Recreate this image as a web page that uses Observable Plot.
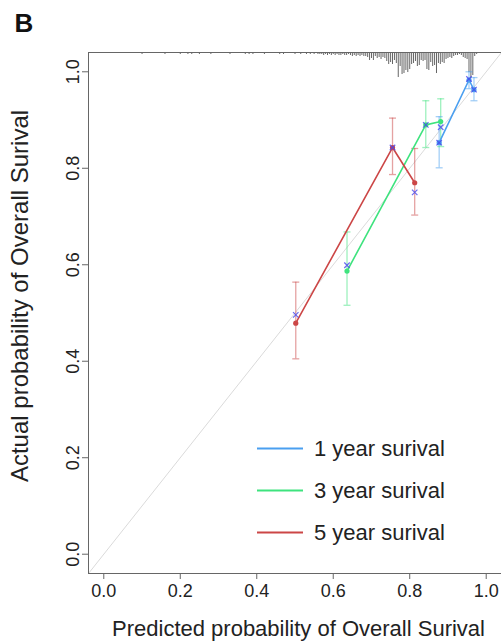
<!DOCTYPE html>
<html><head><meta charset="utf-8">
<script src="https://cdn.jsdelivr.net/npm/d3@7"></script>
<script src="https://cdn.jsdelivr.net/npm/@observablehq/plot@0.6"></script>
<style>body{margin:0;background:#fff}</style>
</head><body><div id="chart"></div>
<script>
// ---- data ----
const xTicks = [0, 0.2, 0.4, 0.6, 0.8, 1.0];
const yTicks = [0, 0.2, 0.4, 0.6, 0.8, 1.0];
const xDomain = [-0.04, 1.04];
const yDomain = [-0.04, 1.04];

const seriesNames = ["1 year surival", "3 year surival", "5 year surival"];
const seriesColors = ["#4a9ff0", "#3ee37e", "#cc4646"];

// 1 year
const pred1 = [0.877, 0.955, 0.968];
const obs1  = [0.853, 0.983, 0.963];
const corr1 = [0.853, 0.985, 0.963];
const lo1   = [0.801, 0.965, 0.940];
const hi1   = [0.907, 1.000, 0.988];
// 3 year
const pred3 = [0.636, 0.842, 0.881];
const obs3  = [0.587, 0.890, 0.897];
const corr3 = [0.599, 0.890, 0.885];
const lo3   = [0.516, 0.843, 0.845];
const hi3   = [0.668, 0.940, 0.944];
// 5 year
const pred5 = [0.502, 0.755, 0.813];
const obs5  = [0.479, 0.843, 0.770];
const corr5 = [0.496, 0.843, 0.750];
const lo5   = [0.405, 0.787, 0.703];
const hi5   = [0.564, 0.904, 0.841];

// distribution of predicted probabilities (spikes hanging from the top)
const histP = [0.05,0.06,0.07,0.08,0.09,0.10,0.11,0.12,0.13,0.14,0.15,0.16,0.17,0.18,0.19,0.20,0.21,0.22,0.23,0.24,0.25,0.26,0.27,0.28,0.29,0.30,0.31,0.32,0.33,0.34,0.35,0.36,0.37,0.38,0.39,0.40,0.41,0.42,0.43,0.44,0.45,0.46,0.47,0.48,0.49,0.50,
0.505,0.51,0.515,0.52,0.525,0.53,0.535,0.54,0.545,0.55,0.555,0.56,0.565,0.57,0.575,0.58,0.585,0.59,0.595,0.60,0.605,0.61,0.615,0.62,0.625,0.63,0.635,0.64,0.645,0.65,0.655,0.66,0.665,0.67,0.675,0.68,0.685,0.69,0.695,0.70,0.705,0.71,0.715,0.72,0.725,0.73,0.735,0.74,0.745,0.75,0.755,0.76,0.765,0.77,0.775,0.78,0.785,0.79,0.795,0.80,0.805,0.81,0.815,0.82,0.825,0.83,0.835,0.84,0.845,0.85,0.855,0.86,0.865,0.87,0.875,0.88,0.885,0.89,0.895,0.90,0.905,0.91,0.915,0.92,0.925,0.93,0.935,0.94,0.945,0.95,0.955,0.96,0.965,0.97,0.975,0.985];
const histN = [1,1,0,1,1,2,1,1,1,0,1,2,1,1,1,2,1,2,2,1,2,1,1,2,1,1,1,1,2,1,1,1,2,2,2,1,1,2,1,1,1,2,2,1,1,2,
1,1,2,1,1,2,1,2,1,2,1,2,2,2,3,2,3,2,3,2,3,2,3,3,2,3,3,2,3,4,3,4,3,4,3,4,4,5,8,6,8,4,6,5,7,5,6,9,12,10,12,8,11,25,14,22,21,18,20,17,12,11,9,14,13,8,9,8,17,18,10,14,13,21,11,12,10,11,7,6,5,6,4,3,3,2,3,5,6,7,20,26,23,4,2,1];
const spikeUnit = 1 / 482; // y-units per count

// ---- tidy tables ----
const groups = [
  {name: seriesNames[0], color: seriesColors[0], pred: pred1, obs: obs1, corr: corr1, lo: lo1, hi: hi1},
  {name: seriesNames[1], color: seriesColors[1], pred: pred3, obs: obs3, corr: corr3, lo: lo3, hi: hi3},
  {name: seriesNames[2], color: seriesColors[2], pred: pred5, obs: obs5, corr: corr5, lo: lo5, hi: hi5}
];
const rows = groups.flatMap(g => g.pred.map((p, i) => ({
  series: g.name, color: g.color, pred: p, obs: g.obs[i], corr: g.corr[i], lo: g.lo[i], hi: g.hi[i]
})));
const hist = histP.map((p, i) => ({p, n: histN[i]}));
const yTop = yDomain[1];

const capSymbol = {draw(context) { context.moveTo(-3.5, 0); context.lineTo(3.5, 0); }};

const font = "'Liberation Sans', Arial, Helvetica, sans-serif";

const plot = Plot.plot({
  width: 501, height: 643,
  marginLeft: 88, marginRight: 0, marginTop: 52, marginBottom: 70,
  style: {fontFamily: font, background: "#fff", color: "#222", overflow: "visible"},
  x: {domain: xDomain},
  y: {domain: yDomain},
  marks: [
    // identity line
    Plot.line(xDomain, {x: d => d, y: d => d, stroke: "#dadada", strokeWidth: 1}),
    // spikes
    Plot.ruleX(hist.filter(d => d.n > 0), {x: "p", y1: yTop, y2: d => yTop - d.n * spikeUnit, stroke: "#666", strokeWidth: 1}),
    // error bars
    Plot.ruleX(rows, {x: "pred", y1: "lo", y2: "hi", stroke: "color", strokeOpacity: 0.5, strokeWidth: 1.3}),
    Plot.dot(rows, {x: "pred", y: "hi", symbol: capSymbol, stroke: "color", strokeOpacity: 0.5, strokeWidth: 1.3, r: 3}),
    Plot.dot(rows, {x: "pred", y: "lo", symbol: capSymbol, stroke: "color", strokeOpacity: 0.5, strokeWidth: 1.3, r: 3}),
    // calibration lines
    Plot.line(rows, {x: "pred", y: "obs", z: "series", stroke: "color", strokeWidth: 1.6}),
    Plot.dot(rows, {x: "pred", y: "obs", fill: "color", r: 2.6}),
    // bias-corrected marks
    Plot.dot(rows, {x: "pred", y: "corr", symbol: "times", stroke: "#4646ee", strokeOpacity: 0.8, strokeWidth: 1.2, r: 2.6}),
    // frame and axes
    Plot.frame({stroke: "#666", strokeWidth: 1}),
    Plot.axisX(xTicks, {tickFormat: d3.format(".1f"), tickSize: 6, tickPadding: 5, fontSize: 18, stroke: "#666", fill: "#222"}),
    Plot.axisY(yTicks, {tickFormat: d3.format(".1f"), tickSize: 6, tickPadding: 4, tickRotate: -90, fontSize: 18, stroke: "#666", fill: "#222"}),
    Plot.text(["Predicted probability of Overall Surival"], {frameAnchor: "bottom", dy: 55.5, dx: 3.5, fontSize: 22, fill: "#222", textAnchor: "middle", lineAnchor: "middle"}),
    Plot.text(["Actual probability of Overall Surival"], {frameAnchor: "left", dx: -68, dy: -17, rotate: -90, fontSize: 24, fill: "#222", textAnchor: "middle", lineAnchor: "middle"}),
    Plot.text(["B"], {frameAnchor: "top-left", dx: -74, dy: -21, fontSize: 26, fontWeight: "bold", fill: "#111", textAnchor: "start", lineAnchor: "bottom"})
  ]
});

// legend (layout constants)
const svg = d3.select(plot);
const lg = svg.append("g").attr("font-family", font).attr("font-size", 22).attr("fill", "#222").attr("text-anchor", "start");
seriesNames.forEach((lab, i) => {
  const yy = 448.5 + i * 42;
  lg.append("line").attr("x1", 257).attr("x2", 303).attr("y1", yy).attr("y2", yy)
    .attr("stroke", seriesColors[i]).attr("stroke-width", 1.8);
  lg.append("text").attr("x", 314).attr("y", yy).attr("dy", "0.35em").text(lab);
});

document.getElementById("chart").appendChild(plot);
</script>
</body></html>
